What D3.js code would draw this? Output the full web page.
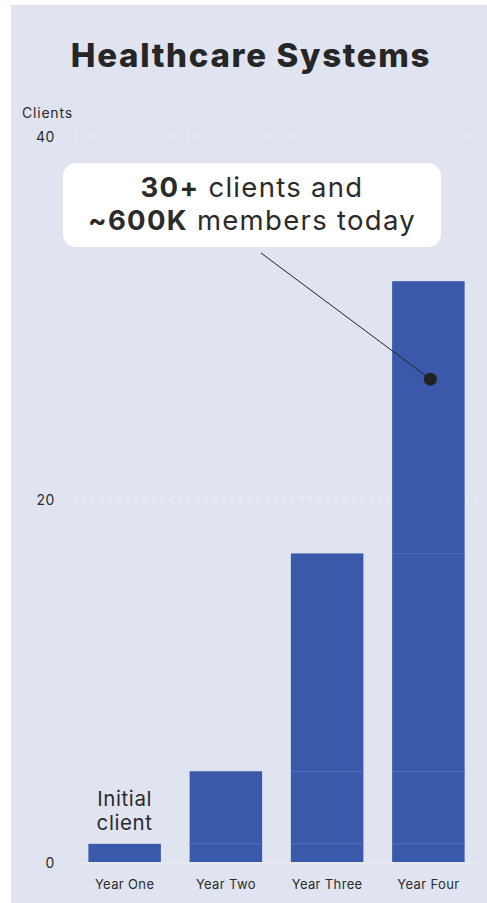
<!DOCTYPE html>
<html>
<head>
<meta charset="utf-8">
<script src="https://cdn.jsdelivr.net/npm/d3@7"></script>
<style>
  html, body { margin: 0; padding: 0; background: #ffffff; }
  svg { display: block; }
  text { font-family: Inter, "Open Sans", sans-serif; }
</style>
</head>
<body>
<svg id="chart" width="487" height="903"></svg>
<script>
// Client counts by year
const categories = ["Year One", "Year Two", "Year Three", "Year Four"];
const clients = [1, 5, 17, 32];
const yTicks = [0, 20, 40];
const title = "Healthcare Systems";
const yAxisTitle = "Clients";
const calloutLines = [
  [{ t: "30+", bold: true }, { t: " clients and", bold: false }],
  [{ t: "~600K", bold: true }, { t: " members today", bold: false }]
];
const firstBarNote = ["Initial", "client"];
const calloutPoint = { category: "Year Four", value: 26.6 };

const W = 487, H = 903;
const svg = d3.select("#chart");

const colors = {
  panel: "#dfe4f0",
  grid: "#e7ebf5",
  bar: "#3a59ab",
  seam: "#4d6bb8",
  text: "#2b2b2b",
  axis: "#e6e8ee"
};

// background panel
svg.append("rect")
  .attr("x", 11).attr("y", 5)
  .attr("width", W - 11).attr("height", H - 5)
  .attr("fill", colors.panel);

const x = d3.scaleBand()
  .domain(categories)
  .range([74, 479])
  .paddingInner(0.284)
  .paddingOuter(0.142);

const y = d3.scaleLinear()
  .domain([0, 40])
  .range([862, 136]);

// title
svg.append("text")
  .attr("x", 251).attr("y", 67)
  .attr("text-anchor", "middle")
  .attr("font-size", 33)
  .attr("font-weight", 800)
  .attr("letter-spacing", 1.7)
  .attr("fill", "#262626")
  .text(title);

// y axis title
svg.append("text")
  .attr("x", 22).attr("y", 118)
  .attr("font-size", 14)
  .attr("letter-spacing", 0.8)
  .attr("fill", colors.text)
  .text(yAxisTitle);

// gridlines (dotted) for non-zero ticks
svg.append("g")
  .selectAll("line")
  .data(yTicks.filter(d => d > 0))
  .join("line")
  .attr("x1", 73.5).attr("x2", 478)
  .attr("y1", d => y(d)).attr("y2", d => y(d))
  .attr("stroke", colors.grid)
  .attr("stroke-width", 4)
  .attr("stroke-dasharray", "4,4.7");

// y axis tick labels
const yAxis = d3.axisLeft(y).tickValues(yTicks).tickSize(0).tickPadding(0);
const gy = svg.append("g").attr("transform", "translate(55,0)").call(yAxis);
gy.select(".domain").remove();
gy.selectAll("text")
  .attr("font-size", 14)
  .attr("letter-spacing", 0.6)
  .attr("fill", colors.text)
  .attr("dy", "0.36em")
  .style("font-family", "Inter, 'Open Sans', sans-serif");

// bars, built from stacked yearly increments so earlier levels show as seams
const segs = [];
categories.forEach((c, i) => {
  for (let k = 0; k <= i; k++) {
    segs.push({ cat: c, y0: k === 0 ? 0 : clients[k - 1], y1: clients[k] });
  }
});
svg.append("g")
  .selectAll("rect")
  .data(segs)
  .join("rect")
  .attr("x", d => x(d.cat))
  .attr("width", x.bandwidth())
  .attr("y", d => y(d.y1))
  .attr("height", d => y(d.y0) - y(d.y1))
  .attr("fill", colors.bar);

// seams between stacked levels
svg.append("g")
  .selectAll("line")
  .data(segs.filter(d => d.y0 > 0))
  .join("line")
  .attr("x1", d => x(d.cat)).attr("x2", d => x(d.cat) + x.bandwidth())
  .attr("y1", d => y(d.y0)).attr("y2", d => y(d.y0))
  .attr("stroke", colors.seam)
  .attr("stroke-width", 1);

// baseline
svg.append("line")
  .attr("x1", 74).attr("x2", 479)
  .attr("y1", y(0) + 1).attr("y2", y(0) + 1)
  .attr("stroke", colors.axis)
  .attr("stroke-width", 2);

// x axis labels
const xAxis = d3.axisBottom(x).tickSize(0).tickPadding(0);
const gx = svg.append("g").attr("transform", `translate(0,${y(0) + 27})`).call(xAxis);
gx.select(".domain").remove();
gx.selectAll("text")
  .attr("font-size", 13)
  .attr("letter-spacing", 0.35)
  .attr("fill", colors.text)
  .attr("dy", 0)
  .style("font-family", "Inter, 'Open Sans', sans-serif");

// note above the first bar
const note = svg.append("text")
  .attr("text-anchor", "middle")
  .attr("font-size", 20.5)
  .attr("letter-spacing", 0.6)
  .attr("fill", colors.text);
firstBarNote.forEach((line, i) => {
  note.append("tspan")
    .attr("x", x(categories[0]) + x.bandwidth() / 2)
    .attr("y", 806 + i * 23.5)
    .text(line);
});

// callout box with leader line to the latest bar
const px = x(calloutPoint.category) + x.bandwidth() / 2 + 2;
const py = y(calloutPoint.value);
svg.append("line")
  .attr("x1", 261).attr("y1", 253)
  .attr("x2", px).attr("y2", py)
  .attr("stroke", "#222")
  .attr("stroke-width", 1);
svg.append("circle")
  .attr("cx", px).attr("cy", py).attr("r", 6.5)
  .attr("fill", "#222");

svg.append("rect")
  .attr("x", 63).attr("y", 163)
  .attr("width", 378).attr("height", 84)
  .attr("rx", 13)
  .attr("fill", "#ffffff");

const callout = svg.append("text")
  .attr("text-anchor", "middle")
  .attr("font-size", 27.5)
  .attr("letter-spacing", 1.3)
  .attr("fill", colors.text);
calloutLines.forEach((parts, i) => {
  const line = callout.append("tspan")
    .attr("x", 252)
    .attr("y", 197 + i * 33);
  parts.forEach((p, j) => {
    const s = j === 0 ? line : callout.append("tspan");
    s.text(p.t).attr("font-weight", p.bold ? 700 : 400);
  });
});
</script>
</body>
</html>
